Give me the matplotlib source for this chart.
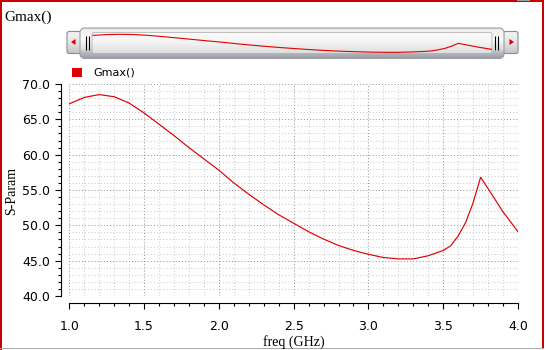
import numpy as np
import matplotlib
matplotlib.use("Agg")
import matplotlib.pyplot as plt
from matplotlib.patches import Rectangle, FancyBboxPatch, Polygon
from matplotlib.ticker import MultipleLocator, FormatStrFormatter
from matplotlib.colors import to_rgb

# ---- data ----
freq = [1.0, 1.1, 1.2, 1.3, 1.4, 1.5, 1.6, 1.7, 1.8, 1.9, 2.0, 2.1, 2.2, 2.3,
        2.4, 2.5, 2.6, 2.7, 2.8, 2.9, 3.0, 3.1, 3.2, 3.3, 3.4, 3.5, 3.55, 3.6,
        3.65, 3.7, 3.75, 3.8, 3.9, 4.0]
gmax = [67.2, 68.1, 68.5, 68.2, 67.3, 65.9, 64.3, 62.7, 61.0, 59.4, 57.8, 56.0,
        54.4, 52.9, 51.5, 50.3, 49.1, 48.05, 47.15, 46.45, 45.9, 45.45, 45.25,
        45.25, 45.7, 46.45, 47.1, 48.5, 50.4, 53.2, 56.8, 55.2, 51.9, 49.1]
series_name = "Gmax()"
x_label = "freq (GHz)"
y_label = "S-Param"

W, H = 546, 350
RED = "#e00000"
FRAME_RED = "#cc0000"


def fr(x0, y0, x1, y1):
    return [x0 / W, 1 - y1 / H, (x1 - x0) / W, (y1 - y0) / H]


fig = plt.figure(figsize=(W / 100, H / 100), dpi=100)
fig.patch.set_facecolor("white")

bg = fig.add_axes([0, 0, 1, 1], zorder=0)
bg.axis("off")


def gradient_box(x0, y0, x1, y1, stops, radius, edge, z, lw=0.8):
    patch = FancyBboxPatch((x0, y0), x1 - x0, y1 - y0,
                           boxstyle=f"round,pad=0,rounding_size={radius}",
                           fc="none", ec=edge, lw=lw, zorder=z + 1)
    bg.add_patch(patch)
    n = 80
    ys = np.linspace(0, 1, n)
    pos = [s[0] for s in stops]
    cols = np.array([to_rgb(s[1]) for s in stops])
    img = np.stack([np.interp(ys, pos, cols[:, k]) for k in range(3)], axis=-1)
    img = img[:, None, :]
    im = bg.imshow(img, extent=(x0, x1, y1, y0), aspect="auto", zorder=z,
                   interpolation="bilinear")
    im.set_clip_path(patch)


# frame
bg.add_patch(Rectangle((0, 0), 2.3, 350, fc=FRAME_RED, ec="none", zorder=1))
bg.add_patch(Rectangle((0, 0), 544, 2.3, fc=FRAME_RED, ec="none", zorder=1))
bg.add_patch(Rectangle((541.7, 0), 2.6, 348, fc=FRAME_RED, ec="none", zorder=1))
bg.add_patch(Rectangle((0, 347.5), 544, 1.5, fc="#b0a8a8", ec="none", zorder=1))
bg.add_patch(Rectangle((517, 0), 13, 1.3, fc="#a0a0a0", ec="none", zorder=2))

# title
bg.text(4, 17, series_name, family="Liberation Serif", fontsize=11,
        ha="left", va="center", zorder=5)

# overview scrollbar widget
btn_stops = [(0, "#f4f4f4"), (0.5, "#e6e6e6"), (1, "#c4c6c8")]
gradient_box(67, 31.5, 81, 53.5, btn_stops, 2, "#8c8c8c", 2)
gradient_box(503.5, 31.5, 518, 53.5, btn_stops, 2, "#8c8c8c", 2)
bg.add_patch(Polygon([[71, 42], [75.5, 39], [75.5, 45]], closed=True,
                     fc=RED, ec="none", zorder=6))
bg.add_patch(Polygon([[514, 42], [509.5, 39], [509.5, 45]], closed=True,
                     fc=RED, ec="none", zorder=6))

thumb_stops = [(0, "#d8d8d8"), (0.1, "#f0f0f0"), (0.4, "#fbfbfb"),
               (0.72, "#dcdcdc"), (0.82, "#b8bcc2"), (1, "#9ca0a8")]
gradient_box(80, 28, 504, 58.5, thumb_stops, 5, "#a0a0a0", 3)
inner_stops = [(0, "#fafafa"), (0.5, "#f4f4f4"), (1, "#dedede")]
gradient_box(92, 32.5, 492, 53.5, inner_stops, 2, "#b4b4b4", 4, lw=0.6)
for gx in (85.8, 88.6, 495.3, 498.1):
    bg.plot([gx, gx], [36, 50], color="black", lw=0.8, zorder=6,
            solid_capstyle="butt")

bg.set_xlim(0, W)
bg.set_ylim(H, 0)

# legend (manual)
bg.add_patch(Rectangle((72, 68), 10, 9, fc=RED, ec="none", zorder=5))
bg.text(93, 72.8, series_name, fontsize=8, ha="left", va="center",
        family="DejaVu Sans", zorder=5)

# mini overview line
mini = fig.add_axes(fr(93, 34.3, 491.5, 52.3), zorder=3)
mini.set_facecolor("none")
mini.plot(freq, gmax, color=RED, lw=0.8, clip_on=False)
mini.set_xlim(min(freq), max(freq))
mini.set_ylim(min(gmax), max(gmax))
mini.axis("off")

# main axes
ax = fig.add_axes(fr(69.3, 84, 518, 296), zorder=2)
ax.set_facecolor("none")
ax.plot(freq, gmax, color=RED, lw=0.85, zorder=3)
ax.set_xlim(1.0, 4.0)
ax.set_ylim(40.0, 70.0)

for s in ("top", "right"):
    ax.spines[s].set_visible(False)
ax.spines["left"].set_position(("outward", 5.8))
ax.spines["bottom"].set_position(("outward", 4.8))
for s in ("left", "bottom"):
    ax.spines[s].set_linewidth(0.8)

ax.xaxis.set_major_locator(MultipleLocator(0.5))
ax.xaxis.set_minor_locator(MultipleLocator(0.1))
ax.yaxis.set_major_locator(MultipleLocator(5))
ax.yaxis.set_minor_locator(MultipleLocator(1))
ax.xaxis.set_major_formatter(FormatStrFormatter("%.1f"))
ax.yaxis.set_major_formatter(FormatStrFormatter("%.1f"))

ax.tick_params(which="major", direction="out", length=4.5, width=0.8,
               labelsize=9, colors="black")
ax.tick_params(which="minor", direction="out", length=2.4, width=0.8)
ax.tick_params(axis="x", which="major", pad=8)
ax.tick_params(axis="y", which="major", pad=3.4)

ax.grid(which="major", color="#9a9a9a", linestyle=(0, (1, 2)), linewidth=0.75)
ax.grid(which="minor", color="#cdcdcd", linestyle=(0, (1, 2)), linewidth=0.75)
ax.set_axisbelow(True)

ax.set_xlabel(x_label, family="Liberation Serif", fontsize=10, va="center")
ax.xaxis.set_label_coords(0.5, (296 - 341.7) / 212)
ax.set_ylabel(y_label, family="Liberation Serif", fontsize=10, va="center")
ax.yaxis.set_label_coords((11.7 - 69.3) / 448.7, (296 - 191) / 212)

fig.savefig("out.png", dpi=100)
